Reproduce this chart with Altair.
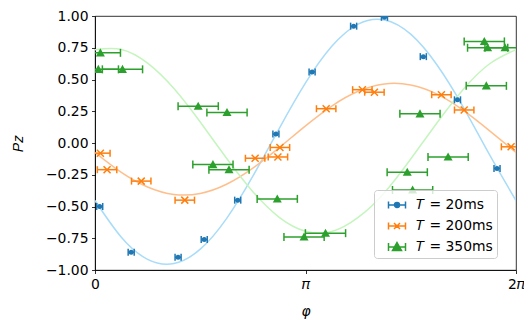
import math
import altair as alt
import pandas as pd

SERIES = ["𝑇 = 20ms", "𝑇 = 200ms", "𝑇 = 350ms"]
COLORS = ["#1f77b4", "#ff7f0e", "#2ca02c"]
FIT_COLORS = ["#a9dcf9", "#ffbf8c", "#c5f5be"]
XERR = [0.045, 0.145, 0.30]

phi_20 = [0.07, 0.54, 1.24, 1.63, 2.13, 2.70, 3.24, 3.86, 4.32, 4.90, 5.41, 6.00]
pz_20 = [-0.50, -0.86, -0.90, -0.76, -0.45, 0.07, 0.56, 0.92, 0.99, 0.68, 0.34, -0.20]

phi_200 = [0.08, 0.18, 0.69, 1.34, 2.39, 2.73, 2.76, 3.45, 3.99, 4.17, 5.17, 5.51, 6.21]
pz_200 = [-0.08, -0.21, -0.30, -0.45, -0.12, -0.11, -0.035, 0.27, 0.42, 0.40, 0.38, 0.26, -0.03]

phi_350 = [0.08, 0.05, 0.41, 1.54, 1.97, 1.76, 2.00, 2.72, 3.12, 3.44, 4.66, 4.74, 4.85, 5.27, 5.81, 5.84, 5.86, 6.12]
pz_350 = [0.71, 0.58, 0.58, 0.29, 0.24, -0.17, -0.21, -0.44, -0.74, -0.71, -0.23, -0.37, 0.23, -0.11, 0.80, 0.45, 0.75, 0.75]

fit_phi = [0.000, 0.393, 0.785, 1.178, 1.571, 1.963, 2.356, 2.749, 3.142,
           3.534, 3.927, 4.320, 4.712, 5.105, 5.498, 5.890, 6.283]
fit_20 = [-0.453, -0.742, -0.916, -0.949, -0.836, -0.595, -0.261, 0.114, 0.473,
          0.761, 0.936, 0.969, 0.857, 0.614, 0.281, -0.094, -0.453]
fit_200 = [-0.075, -0.231, -0.346, -0.405, -0.397, -0.325, -0.198, -0.037, 0.135,
           0.291, 0.407, 0.465, 0.457, 0.385, 0.257, 0.096, -0.075]
fit_350 = [0.735, 0.737, 0.629, 0.429, 0.165, -0.120, -0.383, -0.585, -0.695,
           -0.697, -0.586, -0.391, -0.126, 0.159, 0.423, 0.624, 0.735]

PHIS = [phi_20, phi_200, phi_350]
PZS = [pz_20, pz_200, pz_350]
FITS = [fit_20, fit_200, fit_350]

rows = []
for s, phis, pzs, e in zip(SERIES, PHIS, PZS, XERR):
    for p, z in zip(phis, pzs):
        rows.append({"series": s, "phi": p, "pz": z, "lo": p - e, "hi": p + e})
pts = pd.DataFrame(rows)

frows = []
for s, f in zip(SERIES, FITS):
    for p, z in zip(fit_phi, f):
        frows.append({"series": s, "phi": p, "pz": z})
fits = pd.DataFrame(frows)

FONT = "DejaVu Sans"
TWO_PI = 2 * math.pi

xscale = alt.Scale(domain=[0, TWO_PI], nice=False, zero=False)
yscale = alt.Scale(domain=[-1, 1], nice=False, zero=False)

XAXIS = alt.Axis(
    values=[0, math.pi, TWO_PI],
    labelExpr="datum.value < 0.1 ? '0' : (datum.value < 4 ? '𝜋' : '2𝜋')",
    title="φ", titleFontStyle="italic", titleY=41, titleBaseline="middle")
YAXIS = alt.Axis(
    values=[-1, -0.75, -0.5, -0.25, 0, 0.25, 0.5, 0.75, 1],
    labelExpr="replace(format(datum.value, '.2f'), '-', '−')",
    title="𝑃𝑧", titleX=-77, titleY=127, titleBaseline="middle", titleAngle=270)


def xenc(field):
    return alt.X(f"{field}:Q", scale=xscale, axis=XAXIS)


Y = alt.Y("pz:Q", scale=yscale, axis=YAXIS)

MARKERS = [
    dict(shape="circle", filled=True, size=25, strokeWidth=0),
    dict(shape="M-1,-1L1,1M-1,1L1,-1", filled=False, size=49, strokeWidth=1.5),
    dict(shape="M0,-1L1,0.8L-1,0.8Z", filled=True, size=81, strokeWidth=0),
]
CAPS = [49, 49, 64]

layers = []
for s, fc in zip(SERIES, FIT_COLORS):
    layers.append(
        alt.Chart(fits).transform_filter(alt.datum.series == s)
        .mark_line(color=fc, strokeWidth=1.5, clip=True, interpolate="natural")
        .encode(x=xenc("phi"), y=Y)
    )

for s, c, mk, cap in zip(SERIES, COLORS, MARKERS, CAPS):
    base = alt.Chart(pts).transform_filter(alt.datum.series == s)
    layers.append(base.mark_rule(color=c, strokeWidth=1.5, clip=True)
                  .encode(x=xenc("lo"), x2="hi:Q", y=Y))
    for end in ["lo", "hi"]:
        layers.append(base.mark_point(shape="M0,-1L0,1", filled=False, color=c, size=cap,
                                      strokeWidth=1.5, opacity=1, clip=True)
                      .encode(x=xenc(end), y=Y))
    layers.append(base.mark_point(color=c, opacity=1, clip=True, **mk).encode(x=xenc("phi"), y=Y))

LEG_PATHS = [
    "M-0.05,0H1.65M-0.05,-0.35V0.35M1.65,-0.35V0.35M1.05,0A0.25,0.25 0 1,1 0.55,0A0.25,0.25 0 1,1 1.05,0",
    "M-0.05,0H1.65M-0.05,-0.35V0.35M1.65,-0.35V0.35M0.5,-0.3L1.1,0.3M0.5,0.3L1.1,-0.3",
    "M-0.05,0H1.65M-0.05,-0.4V0.4M1.65,-0.4V0.4M0.8,-0.45L1.25,0.35L0.35,0.35Z",
]
LEG = alt.Legend(title=None, orient="none", legendX=279, legendY=174,
                 symbolSize=400, symbolStrokeWidth=1.5, symbolOpacity=1,
                 labelFont=FONT, labelFontSize=13.9, labelColor="black",
                 labelOffset=16, rowPadding=3, padding=4,
                 strokeColor="#cccccc", fillColor="rgba(255,255,255,0.8)", cornerRadius=3)
legend_layer = alt.Chart(pts).mark_point(filled=True, opacity=0).encode(
    x=xenc("phi"), y=Y,
    fill=alt.Fill("series:N", scale=alt.Scale(domain=SERIES, range=COLORS), legend=LEG),
    stroke=alt.Stroke("series:N", scale=alt.Scale(domain=SERIES, range=COLORS), legend=LEG),
    shape=alt.Shape("series:N", scale=alt.Scale(domain=SERIES, range=LEG_PATHS), legend=LEG),
)
layers.append(legend_layer)

chart = alt.layer(*layers).properties(
    width=421, height=254,
    autosize=alt.AutoSizeParams(type="none"),
    padding={"left": 87, "top": 8, "right": 8, "bottom": 50},
).configure_view(stroke="black", strokeWidth=0.8).configure_axis(
    grid=False, domainColor="black", domainWidth=0.8, tickColor="black", tickWidth=0.8,
    tickSize=3.5, labelPadding=3.5, labelFont=FONT, labelFontSize=13.9, labelColor="black",
    titleFont=FONT, titleFontSize=13.9, titleColor="black", titleFontWeight="normal",
    labelFlush=False,
).configure_axisX(labelAngle=0)

chart.save("out.html", embed_options={"renderer": "svg", "actions": False})
